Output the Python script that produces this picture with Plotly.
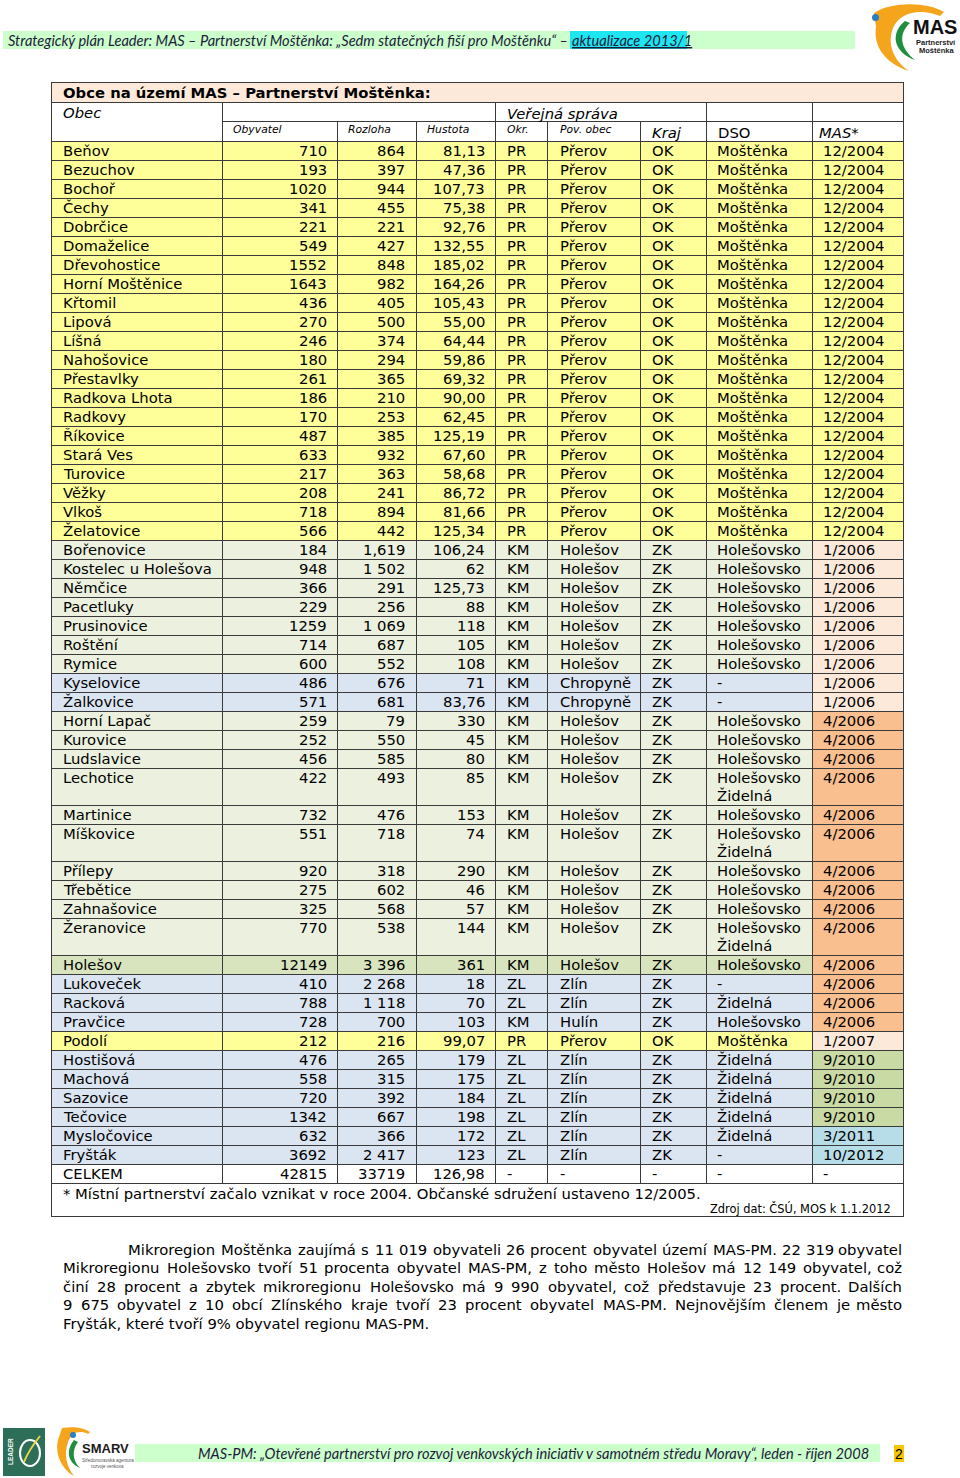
import plotly.graph_objects as go

# ---------------- data ----------------
obec = ["Beňov", "Bezuchov", "Bochoř", "Čechy", "Dobrčice", "Domaželice", "Dřevohostice",
        "Horní Moštěnice", "Křtomil", "Lipová", "Líšná", "Nahošovice", "Přestavlky",
        "Radkova Lhota", "Radkovy", "Říkovice", "Stará Ves", "Turovice", "Věžky", "Vlkoš",
        "Želatovice", "Bořenovice", "Kostelec u Holešova", "Němčice", "Pacetluky",
        "Prusinovice", "Roštění", "Rymice", "Kyselovice", "Žalkovice", "Horní Lapač",
        "Kurovice", "Ludslavice", "Lechotice", "Martinice", "Míškovice", "Přílepy",
        "Třebětice", "Zahnašovice", "Žeranovice", "Holešov", "Lukoveček", "Racková",
        "Pravčice", "Podolí", "Hostišová", "Machová", "Sazovice", "Tečovice",
        "Mysločovice", "Fryšták", "CELKEM"]
obyvatel = ["710", "193", "1020", "341", "221", "549", "1552", "1643", "436", "270", "246",
            "180", "261", "186", "170", "487", "633", "217", "208", "718", "566", "184",
            "948", "366", "229", "1259", "714", "600", "486", "571", "259", "252", "456",
            "422", "732", "551", "920", "275", "325", "770", "12149", "410", "788", "728",
            "212", "476", "558", "720", "1342", "632", "3692", "42815"]
rozloha = ["864", "397", "944", "455", "221", "427", "848", "982", "405", "500", "374",
           "294", "365", "210", "253", "385", "932", "363", "241", "894", "442", "1,619",
           "1 502", "291", "256", "1 069", "687", "552", "676", "681", "79", "550", "585",
           "493", "476", "718", "318", "602", "568", "538", "3 396", "2 268", "1 118", "700",
           "216", "265", "315", "392", "667", "366", "2 417", "33719"]
hustota = ["81,13", "47,36", "107,73", "75,38", "92,76", "132,55", "185,02", "164,26",
           "105,43", "55,00", "64,44", "59,86", "69,32", "90,00", "62,45", "125,19", "67,60",
           "58,68", "86,72", "81,66", "125,34", "106,24", "62", "125,73", "88", "118", "105",
           "108", "71", "83,76", "330", "45", "80", "85", "153", "74", "290", "46", "57",
           "144", "361", "18", "70", "103", "99,07", "179", "175", "184", "198", "172", "123",
           "126,98"]
okr = ["PR"] * 21 + ["KM"] * 19 + ["KM", "ZL", "ZL", "KM", "PR"] + ["ZL"] * 6 + ["-"]
pov_obec = (["Přerov"] * 21 + ["Holešov"] * 7 + ["Chropyně"] * 2 + ["Holešov"] * 10
            + ["Holešov", "Zlín", "Zlín", "Hulín", "Přerov"] + ["Zlín"] * 6 + ["-"])
kraj = ["OK"] * 21 + ["ZK"] * 19 + ["ZK", "ZK", "ZK", "ZK", "OK"] + ["ZK"] * 6 + ["-"]
HZ = "Holešovsko<br>Židelná"
dso = (["Moštěnka"] * 21 + ["Holešovsko"] * 7 + ["-", "-"]
       + ["Holešovsko", "Holešovsko", "Holešovsko", HZ, "Holešovsko", HZ, "Holešovsko",
          "Holešovsko", "Holešovsko", HZ]
       + ["Holešovsko", "-", "Židelná", "Holešovsko", "Moštěnka"]
       + ["Židelná"] * 5 + ["-", "-"])
mas = ["12/2004"] * 21 + ["1/2006"] * 9 + ["4/2006"] * 14 + ["1/2007"] + ["9/2010"] * 4 + ["3/2011", "10/2012", "-"]
skupina = ["M"] * 21 + ["H"] * 7 + ["Z"] * 2 + ["H"] * 10 + ["HT", "Z", "Z", "Z", "M"] + ["Z"] * 6 + ["T"]

title = "Obce na území MAS – Partnerství Moštěnka:"
col_heads = ["Obyvatel", "Rozloha", "Hustota", "Okr.", "Pov. obec"]
footnote = "* Místní partnerství začalo vznikat v roce 2004. Občanské sdružení ustaveno 12/2005."
source = "Zdroj dat: ČSÚ, MOS k 1.1.2012"
paragraph = [
    "Mikroregion Moštěnka zaujímá s 11 019 obyvateli 26 procent obyvatel území MAS-PM. 22 319 obyvatel",
    "Mikroregionu Holešovsko tvoří 51 procenta obyvatel MAS-PM, z toho město Holešov má 12 149 obyvatel, což",
    "činí 28 procent a zbytek mikroregionu Holešovsko má 9 990 obyvatel, což představuje 23 procent. Dalších",
    "9 675 obyvatel z 10 obcí Zlínského kraje tvoří 23 procent obyvatel MAS-PM. Nejnovějším členem je město",
    "Fryšták, které tvoří 9% obyvatel regionu MAS-PM.",
]
header_text = "Strategický plán Leader: MAS – Partnerství Moštěnka: „Sedm statečných fiší pro Moštěnku“ – "
header_hl = "aktualizace 2013/1"
footer_text = "MAS-PM: „Otevřené partnerství pro rozvoj venkovských iniciativ v samotném středu Moravy“, leden - říjen 2008"

# ---------------- styles ----------------
TF = "DejaVu Sans, Verdana, sans-serif"
HF = "Liberation Sans Narrow, Lato, sans-serif"
FS = 14.8
PFS = 14.8
row_fill = {"M": "#ffff99", "H": "#ebf1de", "HT": "#d7e4bd", "Z": "#dbe5f1", "T": "#ffffff"}
mas_fill = {"12/2004": "#ffff99", "1/2006": "#fde9d9", "1/2007": "#fde9d9", "4/2006": "#fabf8f",
            "9/2010": "#c9daa4", "3/2011": "#b7dee8", "10/2012": "#b7dee8", "-": "#ffffff"}
GRID = "#3a3a3a"

X0, X1 = 51, 903
CX = [51, 222, 337, 416, 495, 547, 640, 706, 812, 903]

shapes, ann = [], []


def rect(x0, y0, x1, y1, fill):
    shapes.append(dict(type="rect", xref="x", yref="y", x0=x0, y0=y0, x1=x1, y1=y1,
                       fillcolor=fill, line=dict(width=0), layer="below"))


def txt(x, y, s, size=FS, anchor="left", family=TF, color="#000000", yanchor="middle",
        angle=0):
    ann.append(dict(x=x, y=y, xref="x", yref="y", text=s, showarrow=False, xanchor=anchor,
                    yanchor=yanchor, textangle=angle, borderpad=0,
                    font=dict(family=family, size=size, color=color)))


# approximate DejaVu Sans advance widths (em/1000) used for justification
_W = dict(zip("abcdefghijklmnopqrstuvwxyz",
              [613, 635, 550, 635, 615, 352, 635, 634, 278, 278, 579, 278, 974, 634, 612, 635,
               635, 411, 521, 392, 634, 592, 818, 592, 592, 525]))
_W.update(dict(zip("ABCDEFGHIJKLMNOPQRSTUVWXYZ",
                   [684, 686, 698, 770, 632, 575, 775, 752, 295, 295, 656, 557, 863, 748, 787,
                    603, 787, 695, 635, 611, 732, 684, 989, 685, 611, 685])))
_W.update({c: 636 for c in "0123456789"})
_W.update({" ": 318, ".": 318, ",": 318, "-": 361, "%": 950, ":": 337})
_ACC = str.maketrans("áčďéěíňóřšťúůýžÁČĎÉĚÍŇÓŘŠŤÚŮÝŽ", "acdeeinorstuuyzACDEEINORSTUUYZ")


def est_width(s, size):
    return sum(_W.get(c, 600) for c in s.translate(_ACC)) * size / 1000.0


def justified(line, xl, xr, yc, size):
    words = line.split(" ")
    ws = [est_width(w, size) for w in words]
    gap = (xr - xl - sum(ws)) / (len(words) - 1)
    x = xl
    for k, (w, wd) in enumerate(zip(words, ws)):
        if k == len(words) - 1:
            txt(xr, yc, w, size=size, anchor="right")
        else:
            txt(x, yc, w, size=size)
        x += wd + gap


gx, gy = [], []


def hline(y, xa, xb):
    gx.extend([xa, xb, None]); gy.extend([y + 0.5, y + 0.5, None])


def vline(x, ya, yb):
    gx.extend([x + 0.5, x + 0.5, None]); gy.extend([ya, yb, None])


# ---------------- top header ----------------
rect(3, 31, 855, 49, "#ccffcc")
rect(570, 31, 687, 49, "#1ee6f0")
txt(569, 40.5, "<i>" + header_text.rstrip() + "</i>", size=14.6, family=HF, color="#1b1b3a",
    anchor="right")
txt(571, 40.5, "<i><u>" + header_hl + "</u></i>", size=14.6, family=HF, color="#1b1b3a")

# MAS logo (top-right)
shapes.append(dict(type="path", xref="x", yref="y", fillcolor="#f4a51c", line=dict(width=0),
                   path="M 874 13 C 892 1, 928 2, 944 12 L 940 16 C 920 8, 900 12, 893 28 "
                        "C 887 44, 893 60, 909 71 C 884 63, 873 45, 876 27 Z"))
shapes.append(dict(type="path", xref="x", yref="y", fillcolor="#1f8f3f", line=dict(width=0),
                   path="M 905 21 C 890 33, 893 52, 915 60 C 900 48, 898 34, 910 23 Z"))
shapes.append(dict(type="circle", xref="x", yref="y", x0=872, y0=14, x1=879, y1=21,
                   fillcolor="#2a7fc4", line=dict(width=0)))
txt(935, 27, "<b>MAS</b>", size=20, anchor="center", family="Liberation Sans, Arial",
    color="#111111")
txt(936, 42, "<b>Partnerství</b>", size=7.5, anchor="center", family="Liberation Sans, Arial",
    color="#222222")
txt(936, 50, "<b>Moštěnka</b>", size=7.5, anchor="center", family="Liberation Sans, Arial",
    color="#222222")

# ---------------- table ----------------
TOP_T, TOP_2, TOP_3, TOP_D = 82, 102, 121, 141
rect(X0, TOP_T, X1, TOP_2, "#fde9d9")
txt(62, 92, "<b>" + title + "</b>", size=14.8)
txt(62, 112.5, "<i>Obec</i>")
txt(506, 113, "<i>Veřejná správa</i>")
head_x = [232, 347, 426, 506, 559]
for hx, h in zip(head_x, col_heads):
    txt(hx, 129.5, "<i>" + h + "</i>", size=10.8)
txt(651, 132, "<i>Kraj</i>")
txt(717, 132, "DSO")
txt(818, 132, "<i>MAS*</i>")

# header grid
hline(TOP_2, X0, X1)
hline(TOP_3, 222, X1)
hline(TOP_D, X0, X1)
for cx in [222, 495, 706, 812]:
    vline(cx, TOP_2, TOP_3)
for cx in CX[1:-1]:
    vline(cx, TOP_3, TOP_D)

# rows
y = TOP_D
for i in range(len(obec)):
    nl = 2 if "<br>" in dso[i] else 1
    h = 19 if nl == 1 else 37
    rect(X0, y, 812, y + h, row_fill[skupina[i]])
    rect(812, y, X1, y + h, mas_fill[mas[i]])
    yc = y + 9.8
    txt(62, yc, obec[i])
    txt(328, yc, obyvatel[i], anchor="right")
    txt(406, yc, rozloha[i], anchor="right")
    txt(486, yc, hustota[i], anchor="right")
    txt(506, yc, okr[i])
    txt(559, yc, pov_obec[i])
    txt(651, yc, kraj[i])
    if nl == 1:
        txt(716, yc, dso[i])
    else:
        a, b = dso[i].split("<br>")
        txt(716, yc, a)
        txt(716, yc + 18, b)
    txt(822, yc, mas[i])
    for cx in CX[1:-1]:
        vline(cx, y, y + h)
    y += h
    hline(y, X0, X1)

# footnote row
FOOT_B = y + 33
txt(62, y + 10, footnote)
txt(892, y + 25, source, size=11.4, anchor="right")

# outer border
hline(TOP_T, X0, X1)
hline(FOOT_B, X0, X1)
vline(X0, TOP_T, FOOT_B + 1)
vline(X1, TOP_T, FOOT_B + 1)

# ---------------- paragraph ----------------
py = [1249, 1267.5, 1286, 1304.5, 1323]
for k, line in enumerate(paragraph):
    if k < len(paragraph) - 1:
        justified(line, 127 if k == 0 else 62, 903, py[k], PFS)
    else:
        txt(62, py[k], line, size=PFS)

# ---------------- footer ----------------
rect(135, 1444, 880, 1462, "#ccffcc")
txt(870, 1453, "<i>" + footer_text + "</i>", size=14.6, family=HF, anchor="right",
    color="#1b1b3a")
rect(894, 1445, 904, 1462, "#f7c600")
txt(899, 1453.5, "2", size=14, anchor="center", family="Liberation Sans, Arial")

# LEADER logo
rect(3, 1428, 45, 1476, "#2c6e57")
txt(10, 1452, "<b>LEADER</b>", size=6.5, anchor="center", family="Liberation Sans, Arial",
    color="#ffffff", angle=-90)
shapes.append(dict(type="circle", xref="x", yref="y", x0=20, y0=1440, x1=40, y1=1466,
                   line=dict(color="#ffffff", width=2)))
shapes.append(dict(type="path", xref="x", yref="y", line=dict(color="#e8d24a", width=2),
                   path="M 24 1462 C 28 1452, 32 1446, 40 1436"))
# SMARV logo
shapes.append(dict(type="path", xref="x", yref="y", fillcolor="#f4a51c", line=dict(width=0),
                   path="M 62 1428 C 74 1426, 84 1428, 90 1432 L 88 1434 C 80 1430, 72 1432, 68 1442 "
                        "C 64 1454, 66 1466, 74 1476 C 60 1468, 55 1452, 58 1440 Z"))
shapes.append(dict(type="path", xref="x", yref="y", fillcolor="#1f8f3f", line=dict(width=0),
                   path="M 74 1440 C 66 1450, 67 1462, 80 1468 C 72 1460, 72 1450, 78 1442 Z"))
shapes.append(dict(type="circle", xref="x", yref="y", x0=70, y0=1432, x1=76, y1=1438,
                   fillcolor="#2a7fc4", line=dict(width=0)))
txt(81, 1448, "<b>SMARV</b>", size=13, family="Liberation Sans, Arial", color="#1a1a1a")
txt(81, 1460, "Středomoravská agentura", size=4.5, family="Liberation Sans, Arial",
    color="#555555")
txt(90, 1466, "rozvoje venkova", size=4.5, family="Liberation Sans, Arial", color="#555555")

# ---------------- figure ----------------
fig = go.Figure()
fig.add_trace(go.Scatter(x=gx, y=gy, mode="lines", line=dict(color=GRID, width=1),
                         hoverinfo="skip", showlegend=False))
fig.update_layout(
    width=960, height=1478, margin=dict(l=0, r=0, t=0, b=0),
    paper_bgcolor="#ffffff", plot_bgcolor="#ffffff",
    xaxis=dict(range=[0, 960], visible=False, fixedrange=True),
    yaxis=dict(range=[1478, 0], visible=False, fixedrange=True),
    shapes=shapes, annotations=ann, showlegend=False,
)
fig.write_html("out.html", config={"displayModeBar": False, "staticPlot": True},
               post_script="document.body.style.margin='0px';"
                           "document.body.style.overflow='hidden';")
